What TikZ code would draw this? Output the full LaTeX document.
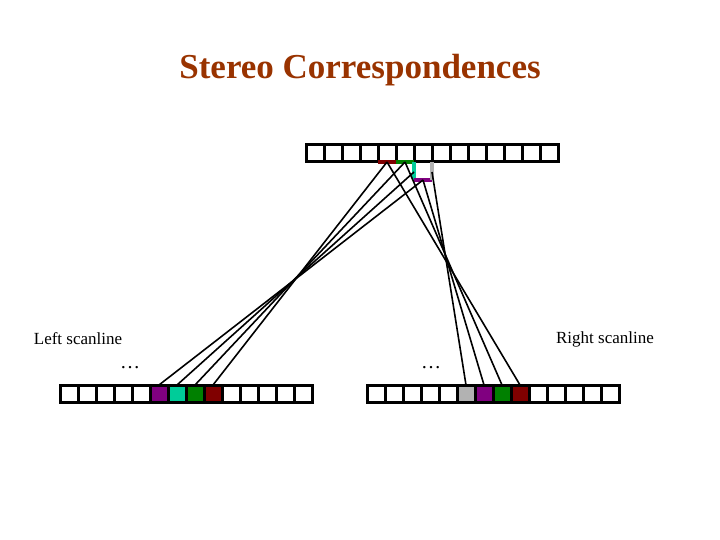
\documentclass[tikz,border=0pt]{standalone}
\usepackage{fontspec}
\setmainfont{Liberation Serif}
\begin{document}
\begin{tikzpicture}[x=1pt,y=-1pt,
 cell/.style={draw=black,line width=3pt,minimum width=18pt,minimum height=17pt,inner sep=0pt,outer sep=0pt},
 seg/.style={line width=4.5pt},
 lk/.style={line width=1.6pt}]
\useasboundingbox (0,0) rectangle (720,540);
\definecolor{tbrown}{RGB}{153,51,0}
\definecolor{cpur}{RGB}{128,0,128}
\definecolor{cteal}{RGB}{0,204,153}
\definecolor{cgreen}{RGB}{0,128,0}
\definecolor{cred}{RGB}{128,0,0}
\definecolor{cgray}{RGB}{178,178,178}
\node[font=\bfseries\fontsize{35}{40}\selectfont,text=tbrown] (title) at (360,70) {Stereo Correspondences};
\foreach \i in {1,...,14}{
 \node[cell] (t\i) at ({306+18*(\i-0.5)},153.5) {};
 \node[cell] (l\i) at ({60+18*(\i-0.5)},393.5) {};
 \node[cell] (r\i) at ({367+18*(\i-0.5)},393.5) {};
}
\node[cell,fill=cpur] at (l6) {};\node[cell,fill=cteal] at (l7) {};
\node[cell,fill=cgreen] at (l8) {};\node[cell,fill=cred] at (l9) {};
\node[cell,fill=cgray] at (r6) {};\node[cell,fill=cpur] at (r7) {};
\node[cell,fill=cgreen] at (r8) {};\node[cell,fill=cred] at (r9) {};
\coordinate (pr) at (387,162); \coordinate (pg) at (405,162);
\coordinate (pt) at (414,172); \coordinate (pp) at (423,180);
\coordinate (pa) at (432,172);
\draw[seg,cred] (378,162) -- (396,162);
\draw[seg,cgreen] (396,162) -- (414,162);
\draw[seg,cteal] (414,162) -- (414,180);
\draw[seg,cpur] (414,180) -- (432,180);
\draw[seg,cgray] (432,162) -- (432,180);
\draw[lk] (l6.north) -- (pp); \draw[lk] (l7.north) -- (pt);
\draw[lk] (l8.north) -- (pg); \draw[lk] (l9.north) -- (pr);
\draw[lk] (r6.north) -- (pa); \draw[lk] (r7.north) -- (pp);
\draw[lk] (r8.north) -- (pg); \draw[lk] (r9.north) -- (pr);
\node[font=\fontsize{17}{20}\selectfont] (ll) at (78,339) {Left scanline};
\node[font=\fontsize{17}{20}\selectfont] (rl) at (605,339) {Right scanline};
\node[font=\fontsize{20}{22}\selectfont] (d1) at (130,368) {\dots};
\node[font=\fontsize{20}{22}\selectfont] (d2) at (431,368) {\dots};
\end{tikzpicture}
\end{document}
